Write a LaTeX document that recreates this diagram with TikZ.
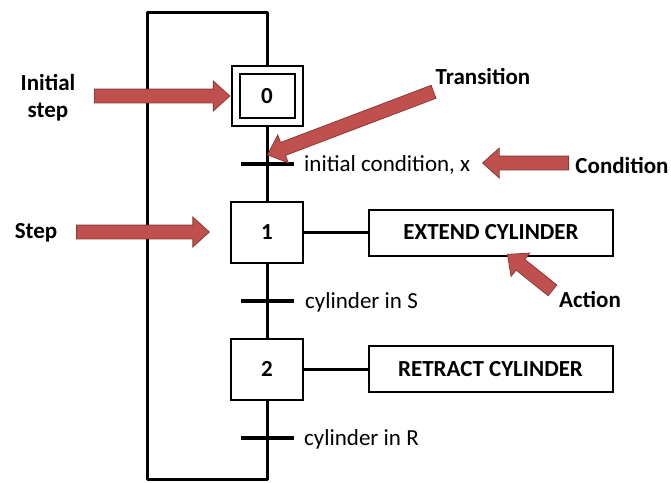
\documentclass[tikz,border=0pt]{standalone}
\usepackage{fontspec}
\setmainfont{Carlito}
\usetikzlibrary{shapes.arrows,calc}

\definecolor{callred}{RGB}{192,80,77}
\definecolor{callredline}{RGB}{140,58,56}

% red block arrow laid along the line from #1 (tail) to #2 (tip)
\newcommand\callarrow[2]{%
  \path let \p1=($(#2)-(#1)$), \n1={veclen(\x1,\y1)} in
    (#1) -- (#2) node[redarrow, pos=1, sloped, allow upside down,
                      anchor=tip, minimum height=\n1] {};}

\begin{document}
\begin{tikzpicture}[x=1pt,y=-1pt,
  flow/.style={line width=3pt, line join=round},
  stepbox/.style={draw, line width=2pt, fill=white, minimum width=72pt,
    minimum height=61pt, inner sep=0pt, font=\fontsize{23}{26}\selectfont\bfseries},
  initbox/.style={draw, line width=2pt, double=white, double distance=6pt,
    minimum width=63pt, minimum height=52pt, inner sep=0pt, outer sep=5pt,
    font=\fontsize{23}{26}\selectfont\bfseries},
  actbox/.style={draw, line width=2pt, minimum width=244pt, minimum height=46pt,
    inner sep=0pt, font=\fontsize{23}{26}\selectfont\bfseries},
  trans/.style={fill=black, minimum width=53pt, minimum height=3.5pt, inner sep=0pt},
  cond/.style={anchor=west, inner sep=0pt, font=\fontsize{23}{26}\selectfont},
  callout/.style={inner sep=0pt, align=center, font=\fontsize{23}{27}\selectfont\bfseries},
  redarrow/.style={single arrow, fill=callred, draw=callredline, line width=0.8pt,
    inner xsep=0pt, inner ysep=6.5pt, single arrow head extend=8pt,
    single arrow tip angle=84},
]
\useasboundingbox (0,0) rectangle (671,482);

% steps
\node[initbox] (s0) at (267,96) {0};
\node[stepbox] (s1) at (267,232.5) {1};
\node[stepbox] (s2) at (267,369) {2};

% actions
\node[actbox] (a1) at (491,232.5) {EXTEND CYLINDER};
\node[actbox] (a2) at (490.5,369) {RETRACT CYLINDER};

% loop back from the last transition to the initial step
\coordinate (br) at (267,479);
\coordinate (bl) at (147,479);
\coordinate (tl) at (147,12);
\coordinate (tr) at (267,12);
\draw[flow] (s2.south) -- (br) -- (bl) -- (tl) -- (tr) -- (s0.north);
\draw[flow] (s0.south) -- (s1.north);
\draw[flow] (s1.south) -- (s2.north);
\draw[flow] (s1.east) -- (a1.west);
\draw[flow] (s2.east) -- (a2.west);

% transitions and their conditions
\node[trans] (t1) at (267,164) {};
\node[trans] (t2) at (267,301) {};
\node[trans] (t3) at (267,438) {};
\node[cond] (c1) at (304,165) {initial condition, x};
\node[cond] (c2) at (305,302) {cylinder in S};
\node[cond] (c3) at (304,439) {cylinder in R};

% callout labels
\node[callout] (lInit) at (48,98) {Initial\\step};
\node[callout] (lTrans) at (483,76) {Transition};
\node[callout] (lCond) at (622,165) {Condition};
\node[callout] (lStep) at (36,233) {Step};
\node[callout] (lAct) at (590,299) {Action};

% callout arrows
\coordinate (initTail) at (95,96);
\coordinate (stepTail) at (77,232);
\coordinate (stepTip) at (210,232);
\coordinate (transTail) at (433,92);
\coordinate (transTip) at (267,155);
\coordinate (condTail) at (568,163);
\coordinate (condTip) at (482,163);
\coordinate (actTail) at (552,290);
\coordinate (actTip) at (507,254);
\callarrow{initTail}{s0.west}
\callarrow{stepTail}{stepTip}
\callarrow{transTail}{transTip}
\callarrow{condTail}{condTip}
\callarrow{actTail}{actTip}
\end{tikzpicture}
\end{document}
